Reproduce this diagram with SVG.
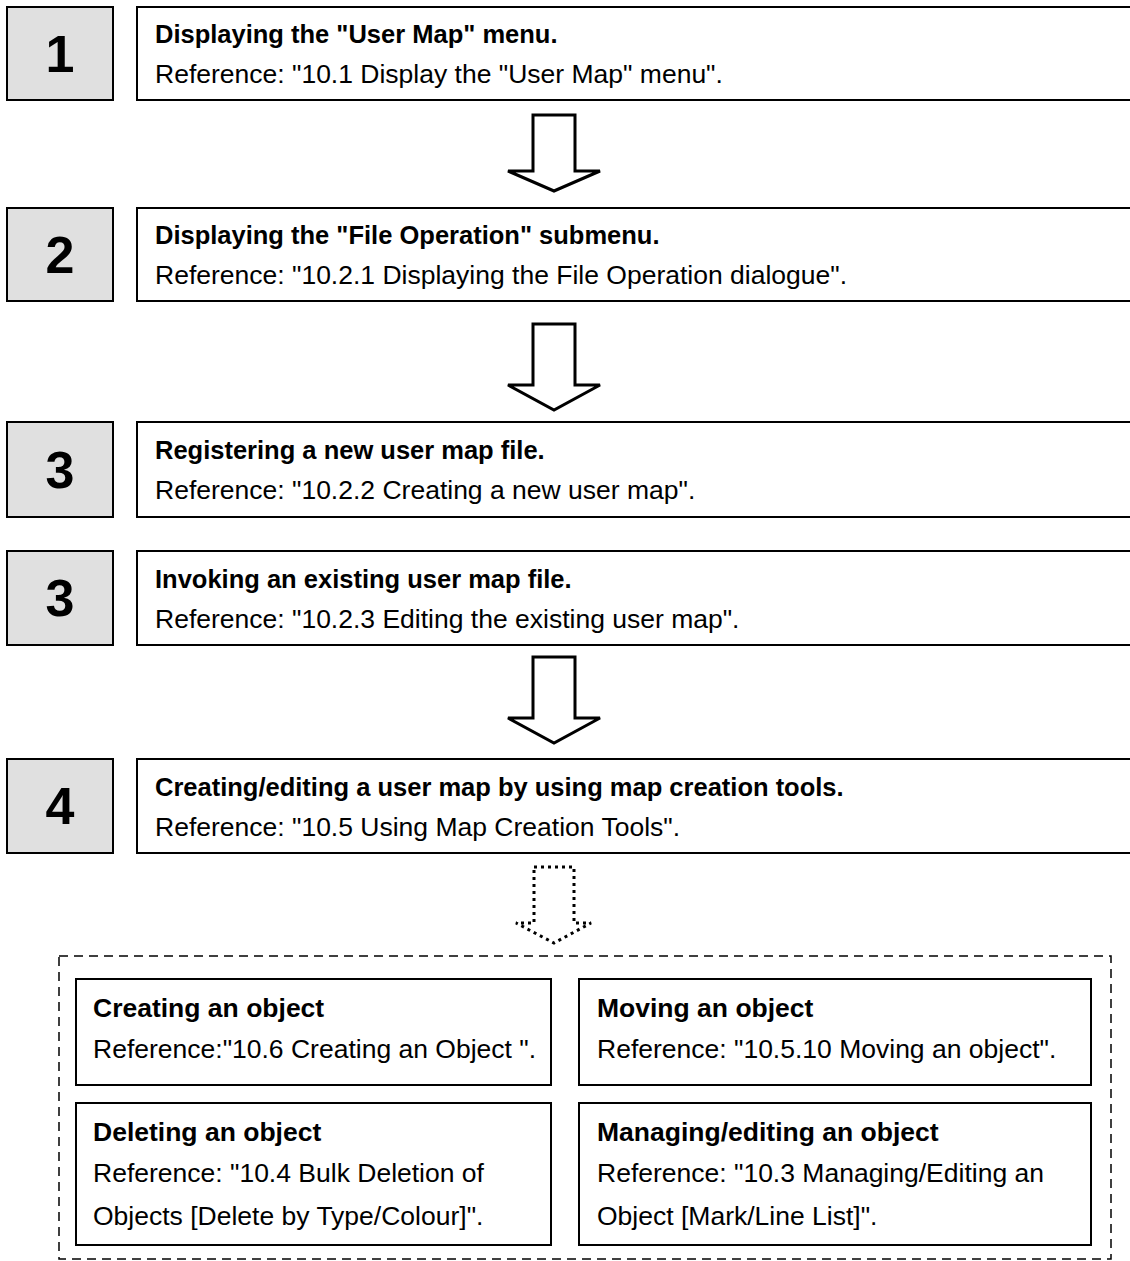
<svg xmlns="http://www.w3.org/2000/svg" width="1130" height="1261" viewBox="0 0 1130 1261">
<style>
.num{fill:#e0e0e0;stroke:#000;stroke-width:2}
.box{fill:#fff;stroke:#000;stroke-width:2}
.n{font-family:"Liberation Sans",Arial,sans-serif;font-weight:bold;font-size:52px;text-anchor:middle}
.t{font-family:"Liberation Sans",Arial,sans-serif;font-weight:bold;font-size:25.5px}
.t2{font-family:"Liberation Sans",Arial,sans-serif;font-weight:bold;font-size:26.5px}
.r{font-family:"Liberation Sans",Arial,sans-serif;font-size:26.5px}
.arr{fill:#fff;stroke:#000;stroke-width:3;stroke-linejoin:miter}
.dot{fill:none;stroke:#000;stroke-width:3;stroke-dasharray:3 4}
.dash{fill:none;stroke:#000;stroke-width:1.5;stroke-dasharray:9 6}
</style>
<rect width="1130" height="1261" fill="#fff"/>
<g id="connectors">
<path class="arr" d="M533,115 H575 V171 H600 L554,191 L508,171 H533 Z"/>
<path class="arr" d="M533,324 H575 V385 H600 L554,410 L508,385 H533 Z"/>
<path class="arr" d="M533,657 H575 V718 H600 L554,743 L508,718 H533 Z"/>
<path class="dot" d="M534,867 H574 V923 H591 L554,943 L516,923 H534 Z"/>
</g>
<g id="step1">
<rect class="num" x="7" y="7" width="106" height="93"/>
<text class="n" x="60" y="72">1</text>
<rect class="box" x="137" y="7" width="1000" height="93"/>
<text class="t" x="155" y="43">Displaying the "User Map" menu.</text>
<text class="r" x="155" y="83">Reference: "10.1 Display the "User Map" menu".</text>
</g>
<g id="step2">
<rect class="num" x="7" y="208" width="106" height="93"/>
<text class="n" x="60" y="273">2</text>
<rect class="box" x="137" y="208" width="1000" height="93"/>
<text class="t" x="155" y="244">Displaying the "File Operation" submenu.</text>
<text class="r" x="155" y="284">Reference: "10.2.1 Displaying the File Operation dialogue".</text>
</g>
<g id="step3a">
<rect class="num" x="7" y="422" width="106" height="95"/>
<text class="n" x="60" y="488">3</text>
<rect class="box" x="137" y="422" width="1000" height="95"/>
<text class="t" x="155" y="459">Registering a new user map file.</text>
<text class="r" x="155" y="499">Reference: "10.2.2 Creating a new user map".</text>
</g>
<g id="step3b">
<rect class="num" x="7" y="551" width="106" height="94"/>
<text class="n" x="60" y="616">3</text>
<rect class="box" x="137" y="551" width="1000" height="94"/>
<text class="t" x="155" y="588">Invoking an existing user map file.</text>
<text class="r" x="155" y="628">Reference: "10.2.3 Editing the existing user map".</text>
</g>
<g id="step4">
<rect class="num" x="7" y="759" width="106" height="94"/>
<text class="n" x="60" y="824">4</text>
<rect class="box" x="137" y="759" width="1000" height="94"/>
<text class="t" x="155" y="796">Creating/editing a user map by using map creation tools.</text>
<text class="r" x="155" y="836">Reference: "10.5 Using Map Creation Tools".</text>
</g>
<g id="group">
<rect class="dash" x="59" y="956" width="1052" height="303"/>
</g>
<g id="create">
<rect class="box" x="76" y="979" width="475" height="106"/>
<text class="t2" x="93" y="1017">Creating an object</text>
<text class="r" x="93" y="1058">Reference:"10.6 Creating an Object ".</text>
</g>
<g id="move">
<rect class="box" x="579" y="979" width="512" height="106"/>
<text class="t2" x="597" y="1017">Moving an object</text>
<text class="r" x="597" y="1058">Reference: "10.5.10 Moving an object".</text>
</g>
<g id="delete">
<rect class="box" x="76" y="1103" width="475" height="142"/>
<text class="t2" x="93" y="1141">Deleting an object</text>
<text class="r" x="93" y="1182">Reference: "10.4 Bulk Deletion of</text>
<text class="r" x="93" y="1225">Objects [Delete by Type/Colour]".</text>
</g>
<g id="manage">
<rect class="box" x="579" y="1103" width="512" height="142"/>
<text class="t2" x="597" y="1141">Managing/editing an object</text>
<text class="r" x="597" y="1182">Reference: "10.3 Managing/Editing an</text>
<text class="r" x="597" y="1225">Object [Mark/Line List]".</text>
</g>
</svg>
